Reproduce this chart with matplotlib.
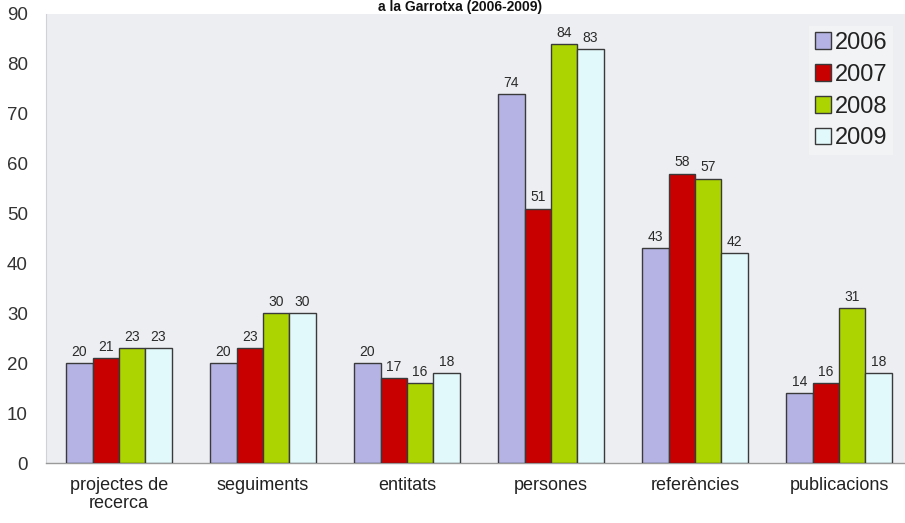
import matplotlib
matplotlib.use("Agg")
import matplotlib.pyplot as plt
import numpy as np

plt.rcParams["font.family"] = ["Liberation Sans", "DejaVu Sans"]

categories = ["projectes de\nrecerca", "seguiments", "entitats", "persones", "referències", "publicacions"]
years = ["2006", "2007", "2008", "2009"]
v2006 = [20, 20, 20, 74, 43, 14]
v2007 = [21, 23, 17, 51, 58, 16]
v2008 = [23, 30, 16, 84, 57, 31]
v2009 = [23, 30, 18, 83, 42, 18]
series = [v2006, v2007, v2008, v2009]
colors = ["#b5b3e3", "#c80000", "#acd400", "#e2f9fb"]
title = "a la Garrotxa (2006-2009)"

W, H = 905, 523
fig = plt.figure(figsize=(W / 100, H / 100), dpi=100)
fig.patch.set_facecolor("white")

left_px, right_px, top_px, bottom_px = 46, 905, 14, 463
ax = fig.add_axes([left_px / W, 1 - bottom_px / H,
                   (right_px - left_px) / W, (bottom_px - top_px) / H])
ax.set_facecolor("#eceef1")

x = np.arange(len(categories))
bw = 0.183
for i, (vals, c) in enumerate(zip(series, colors)):
    pos = x + (i - 1.5) * bw
    bars = ax.bar(pos, vals, width=bw, color=c, edgecolor="#3a3a3a",
                  linewidth=1.0, label=years[i], zorder=3)
    for b, v in zip(bars, vals):
        ax.annotate(str(v), (b.get_x() + b.get_width() / 2, v),
                    xytext=(0, 3), textcoords="offset points",
                    ha="center", va="bottom", fontsize=10, color="#2a2a2a")

# slot spacing 144 px, first group centred at 119 px
slot = 144.0
ax.set_xlim((left_px - 47) / slot - 0.5, (right_px - 47) / slot - 0.5)
ax.set_ylim(0, 90)
ax.set_yticks(range(0, 91, 10))
ax.tick_params(axis="y", length=0, pad=13, labelsize=13.5, labelcolor="#333333")
ax.set_xticks(x)
ax.set_xticklabels(categories, fontsize=13, color="#222222", linespacing=1.1)
ax.tick_params(axis="x", length=0, pad=10)

for s in ["top", "right"]:
    ax.spines[s].set_visible(False)
ax.spines["left"].set_color("#d0d2d6")
ax.spines["bottom"].set_color("#9a9a9a")
ax.spines["bottom"].set_linewidth(1.0)

leg = ax.legend(loc="upper right", bbox_to_anchor=(905 / W, 1 - 14 / H),
                bbox_transform=fig.transFigure, fontsize=17,
                handlelength=0.7, handleheight=0.7, handletextpad=0.15,
                labelspacing=0.42, borderpad=0.25, frameon=True,
                fancybox=False)
leg.get_frame().set_facecolor("#f4f5f7")
leg.get_frame().set_edgecolor("none")
for t in leg.get_texts():
    t.set_color("#222222")

fig.text(460 / W, 1.0, title, ha="center", va="top",
         fontsize=10, fontweight="bold", color="#111111")

fig.savefig("out.png", dpi=100)
